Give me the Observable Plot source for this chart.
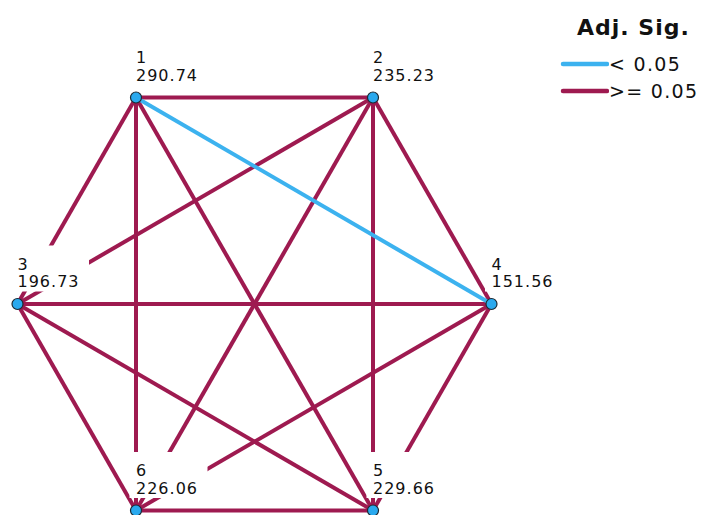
<!DOCTYPE html>
<html>
<head>
<meta charset="utf-8">
<script src="https://cdn.jsdelivr.net/npm/d3@7"></script>
<script src="https://cdn.jsdelivr.net/npm/@observablehq/plot@0.6"></script>
<style>
  body { margin: 0; background: #fff; font-family: "DejaVu Sans", sans-serif; }
  #wrap { position: relative; width: 707px; height: 515px; }
  #legend { position: absolute; left: 560px; top: 15px; color: #111; }
  #legend .title { font-weight: bold; font-size: 22px; margin-left: 17px; letter-spacing: 1px; }
  #legend .row { display: flex; align-items: center; font-size: 19px; height: 27px; letter-spacing: 1.3px; }
  #legend svg { margin-right: 0px; }
</style>
</head>
<body>
<div id="wrap"></div>
<script>
// Node ids, mean ranks and hexagon layout positions (abstract layout units)
const nodeIds = ["1", "2", "3", "4", "5", "6"];
const nodeMeans = [290.74, 235.23, 196.73, 151.56, 229.66, 226.06];
const layoutX = [-0.5, 0.5, -1, 1, 0.5, -0.5];
const layoutY = [1, 1, 0, 0, -1, -1];

// Pairwise comparisons (from, to) and whether adj. sig < 0.05
const edgeFrom = ["1","1","1","1","1","2","2","2","2","3","3","3","4","4","5"];
const edgeTo   = ["2","3","4","5","6","3","4","5","6","4","5","6","5","6","6"];
const edgeSig  = [false,false,true,false,false,false,false,false,false,false,false,false,false,false,false];

const sigLabels = ["< 0.05", ">= 0.05"];
const sigColors = ["#3cb2ef", "#9e1a50"];

const nodes = nodeIds.map((id, i) => ({id, mean: nodeMeans[i], x: layoutX[i], y: layoutY[i],
  label: id + "\n" + nodeMeans[i].toFixed(2)}));
const byId = new Map(nodes.map(n => [n.id, n]));
const edges = edgeFrom.map((f, i) => ({
  x1: byId.get(f).x, y1: byId.get(f).y,
  x2: byId.get(edgeTo[i]).x, y2: byId.get(edgeTo[i]).y,
  sig: edgeSig[i] ? sigLabels[0] : sigLabels[1]
}));
// draw non-significant first, significant on top
edges.sort((a, b) => (a.sig === sigLabels[0]) - (b.sig === sigLabels[0]));

const chart = Plot.plot({
  width: 707,
  height: 515,
  margin: 0,
  x: {domain: [-1, 1], range: [17, 491], axis: null},
  y: {domain: [-1, 1], range: [510, 97], axis: null},
  color: {domain: sigLabels, range: sigColors},
  style: {background: "white", overflow: "visible"},
  marks: [
    Plot.link(edges, {x1: "x1", y1: "y1", x2: "x2", y2: "y2", stroke: "sig", strokeWidth: 4}),
    Plot.rect(nodes, {x1: "x", x2: "x", y1: "y", y2: "y", fill: "white",
      insetLeft: -6, insetRight: -72, insetTop: -58, insetBottom: 12}),
    Plot.text(nodes, {x: "x", y: "y", text: "label", textAnchor: "start", lineAnchor: "bottom",
      dy: -17, dx: 0, fontSize: 16, lineHeight: 1.08, fill: "#111",
      fontFamily: "DejaVu Sans"}),
    Plot.dot(nodes, {x: "x", y: "y", r: 5.5, fill: "#2aa9ee", stroke: "#1c2a33", strokeWidth: 1.2})
  ]
});
chart.querySelectorAll("text").forEach(t => t.style.letterSpacing = "1px");
const wrap = document.getElementById("wrap");
wrap.appendChild(chart);

const legend = document.createElement("div");
legend.id = "legend";
let html = `<div class="title">Adj. Sig.</div><div style="height:10px"></div>`;
sigLabels.forEach((s, i) => {
  html += `<div class="row"><svg width="49" height="10"><line x1="3" x2="47" y1="5" y2="5" stroke="${sigColors[i]}" stroke-width="4.5" stroke-linecap="round"/></svg><span>${s.replace("<", "&lt;").replace(">", "&gt;")}</span></div>`;
});
legend.innerHTML = html;
wrap.appendChild(legend);
</script>
</body>
</html>
